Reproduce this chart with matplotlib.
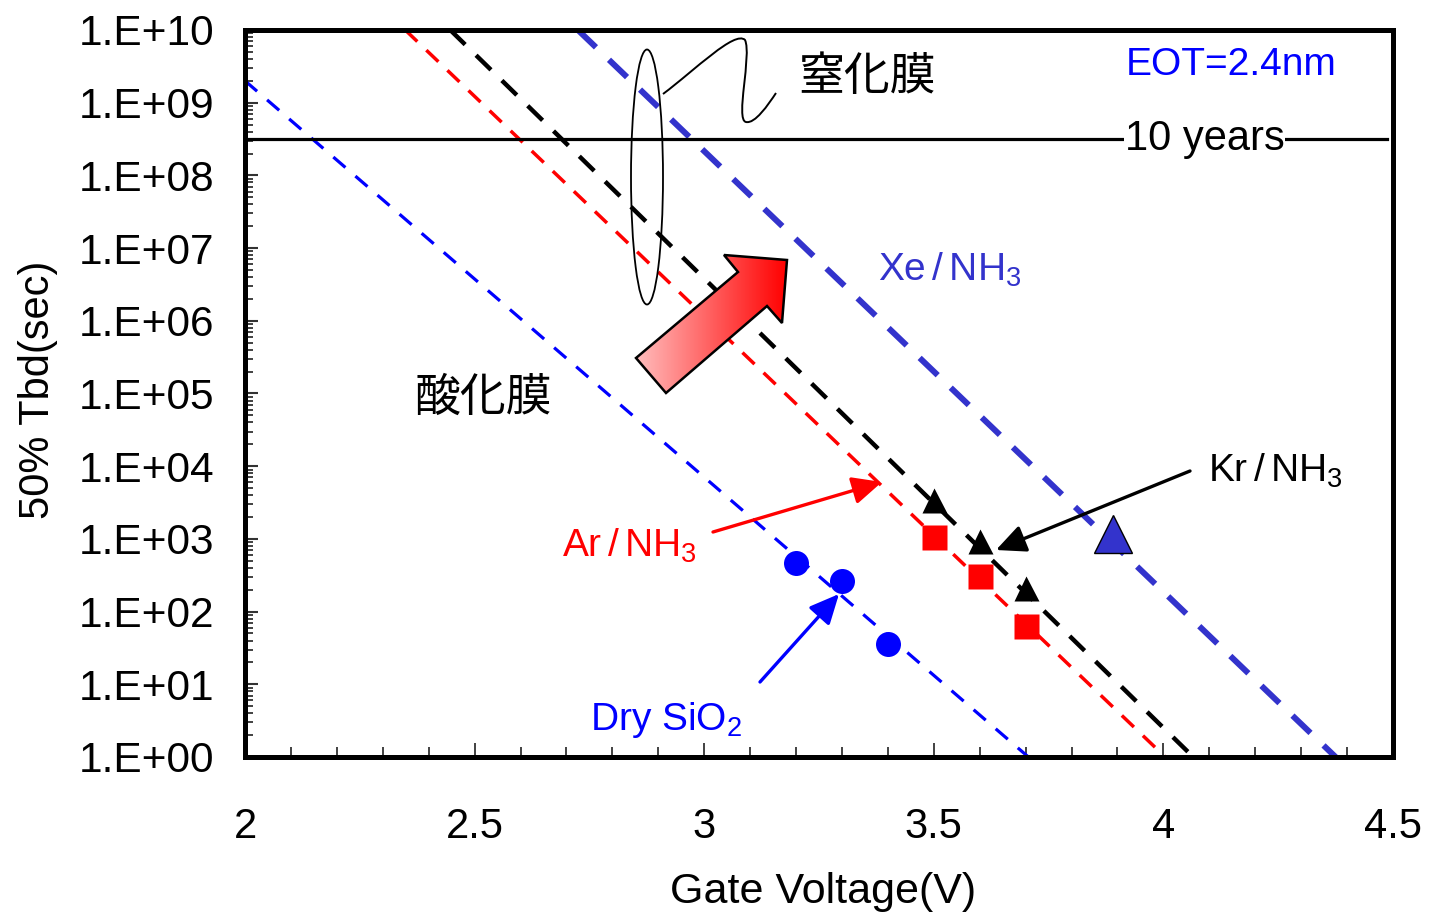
import numpy as np
import matplotlib
matplotlib.use("Agg")
import matplotlib.pyplot as plt
from matplotlib.patches import Ellipse, Polygon, PathPatch
from matplotlib.path import Path
from matplotlib.colors import LinearSegmentedColormap
from matplotlib.ticker import LogLocator, FuncFormatter, MultipleLocator, NullFormatter

plt.rcParams['font.family'] = ['Liberation Sans', 'Noto Sans CJK JP', 'DejaVu Sans']
plt.rcParams['mathtext.default'] = 'regular'
plt.rcParams['lines.scale_dashes'] = False

# ---------------- data ----------------
dry_v = [3.2, 3.3, 3.4]
dry_tbd = [473, 260, 36]
ar_v = [3.5, 3.6, 3.7]
ar_tbd = [1070, 309, 63]
kr_v = [3.5, 3.6, 3.7]
kr_tbd = [3430, 940, 211]
xe_v = [3.89]
xe_tbd = [1170]

# fitted lines (two end points each)
dry_fit_v = [2.0, 3.706]
dry_fit_t = [2.0e9, 1.0]
ar_fit_v = [2.349, 4.004]
ar_fit_t = [1e10, 1.0]
kr_fit_v = [2.447, 4.065]
kr_fit_t = [1e10, 1.0]
xe_fit_v = [2.725, 4.375]
xe_fit_t = [1e10, 1.0]

ten_years_sec = 3.15e8
ten_years_v = [2.0, 4.488]

x_ticks = [2, 2.5, 3, 3.5, 4, 4.5]
y_ticks = [10.0 ** k for k in range(0, 11)]

XE_COLOR = '#3333cc'

# ---------------- figure ----------------
W, H = 1430, 915
fig = plt.figure(figsize=(W / 100, H / 100), dpi=100)
AX_L, AX_R, AX_T, AX_B = 245, 1393, 30, 757
ax = fig.add_axes([AX_L / W, (H - AX_B) / H, (AX_R - AX_L) / W, (AX_B - AX_T) / H])


def pa(xp, yp):
    """pixel -> axes fraction"""
    return ((xp - AX_L) / (AX_R - AX_L), (AX_B - yp) / (AX_B - AX_T))


ax.set_xscale('linear')
ax.set_yscale('log')

# fitted dashed lines
ax.plot(dry_fit_v, dry_fit_t, color='#0000ff', lw=2.3, dashes=(11.5, 9.5), zorder=2)
ax.plot(ar_fit_v, ar_fit_t, color='#ff0000', lw=2.5, dashes=(12, 9), zorder=2)
ax.plot(kr_fit_v, kr_fit_t, color='black', lw=3.2, dashes=(15, 11), zorder=2)
ax.plot(xe_fit_v, xe_fit_t, color=XE_COLOR, lw=4.3, dashes=(18, 13), zorder=2)

# 10 years line
ax.plot(ten_years_v, [ten_years_sec, ten_years_sec], color='black', lw=2.3, zorder=3)
ax.text(4.09, ten_years_sec, '10 years', fontsize=30, ha='center', va='center',
        bbox=dict(facecolor='white', edgecolor='none', pad=0.5), zorder=4)

# data points
ax.plot(dry_v, dry_tbd, 'o', color='#0000ff', ms=18, mec='none', zorder=6)
ax.plot(ar_v, ar_tbd, 's', color='#ff0000', ms=18, mec='none', zorder=6)
ax.plot(kr_v, kr_tbd, '^', color='black', ms=18, mec='none', zorder=7)
ax.plot(xe_v, xe_tbd, '^', color=XE_COLOR, ms=28, mec='black', mew=1.0, zorder=6)

# axes setup
ax.set_xlim(2, 4.5)
ax.set_ylim(1, 1e10)
ax.set_autoscale_on(False)
ax.set_xticks(x_ticks)
ax.set_xticklabels([f'{t:g}' for t in x_ticks])
ax.xaxis.set_minor_locator(MultipleLocator(0.1))
ax.set_yticks(y_ticks)
ax.yaxis.set_major_formatter(FuncFormatter(lambda v, p: f'1.E+{int(round(np.log10(v))):02d}'))
ax.yaxis.set_minor_locator(LogLocator(base=10, subs=np.arange(2, 10), numticks=100))
ax.yaxis.set_minor_formatter(NullFormatter())
ax.tick_params(axis='both', which='both', direction='in', top=False, right=False, color='#333333')
ax.tick_params(axis='x', which='major', length=10, width=1.3, labelsize=30, pad=36)
ax.tick_params(axis='x', which='minor', length=7, width=1.3)
ax.tick_params(axis='y', which='major', length=9, width=1.5, labelsize=30.5, pad=22)
ax.tick_params(axis='y', which='minor', length=6, width=1.3)
for s in ax.spines.values():
    s.set_linewidth(3.6)
    s.set_color('black')

ax.set_xlabel('Gate Voltage(V)', fontsize=31)
ax.xaxis.set_label_coords(*pa(823, 903))
ax.xaxis.label.set_va('baseline')
ax.set_ylabel('50% Tbd(sec)', fontsize=30)
ax.yaxis.set_label_coords(*pa(38, 390))
ax.yaxis.label.set_va('center')

# text labels
cjk = ['Noto Sans CJK JP', 'DejaVu Sans']
ax.text(*pa(867, 77), '窒化膜', family=cjk, fontsize=33, ha='center', va='center', transform=ax.transAxes)
ax.text(*pa(483, 398), '酸化膜', family=cjk, fontsize=33, ha='center', va='center', transform=ax.transAxes)
ax.text(*pa(1126, 75), 'EOT=2.4nm', color='#0000ff', fontsize=28, ha='left', va='baseline', transform=ax.transAxes)
lab_kw = dict(fontsize=28, ha='left', va='baseline', transform=ax.transAxes)
ax.text(*pa(878, 281), 'Xe$\\,$/$\\,$NH$_3$', color=XE_COLOR, **lab_kw)
ax.text(*pa(1208, 482), 'Kr$\\,$/$\\,$NH$_3$', color='black', **lab_kw)
ax.text(*pa(562, 557), 'Ar$\\,$/$\\,$NH$_3$', color='#ff0000', **lab_kw)
ax.text(*pa(590, 730), 'Dry SiO$_2$', color='#0000ff', **lab_kw)

# pointer arrows
def arrow(tail, tip, color):
    ax.annotate('', xy=pa(*tip), xytext=pa(*tail), xycoords='axes fraction', textcoords='axes fraction',
                arrowprops=dict(arrowstyle='-|>,head_length=0.6,head_width=0.28', mutation_scale=30,
                                color=color, lw=2.4, shrinkA=0, shrinkB=0), zorder=8)

arrow((713, 532), (882, 482), '#ff0000')
arrow((1190, 471), (996, 550), 'black')
arrow((760, 682), (839, 594), '#0000ff')

# ellipse around nitride lines
ecx, ecy = pa(647, 177)
ax.add_patch(Ellipse((ecx, ecy), 32 / (AX_R - AX_L), 255 / (AX_B - AX_T), transform=ax.transAxes,
                     fill=False, ec='black', lw=1.3, zorder=5))

# squiggle connector
sq_pts = [(663, 94), (695, 70), (735, 30), (745, 40),
          (752, 55), (735, 120), (746, 122),
          (755, 124), (768, 105), (776, 93)]
codes = [Path.MOVETO] + [Path.CURVE4] * 9
ax.add_patch(PathPatch(Path([pa(*p) for p in sq_pts], codes), transform=ax.transAxes,
                       fill=False, ec='black', lw=1.4, zorder=5))

# big gradient arrow
arr_px = [(636, 358), (666, 393), (767, 306), (782, 323), (787, 260), (724, 255), (738, 272)]
arr_ax = [pa(*p) for p in arr_px]
poly = Polygon(arr_ax, closed=True, transform=ax.transAxes, fill=False, ec='black', lw=1.8, zorder=9)
ax.add_patch(poly)
xs = [p[0] for p in arr_ax]
ys = [p[1] for p in arr_ax]
cmap = LinearSegmentedColormap.from_list('grad', ['#ffbdbd', '#ff0000'])
im = ax.imshow(np.linspace(0, 1, 256).reshape(1, -1), cmap=cmap, aspect='auto',
               extent=[min(xs), max(xs), min(ys), max(ys)], transform=ax.transAxes, zorder=8.5,
               interpolation='bilinear')
im.set_clip_path(Polygon(arr_ax, closed=True, transform=ax.transAxes))
ax.set_xlim(2, 4.5)
ax.set_ylim(1, 1e10)

fig.savefig('out.png', dpi=100)
